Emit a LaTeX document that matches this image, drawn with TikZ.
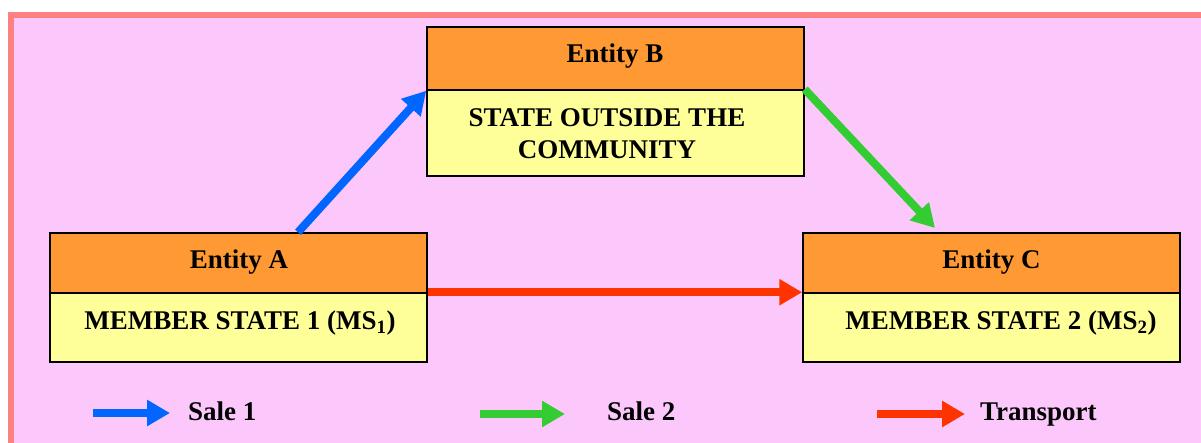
\documentclass[tikz,border=0pt]{standalone}
\usepackage{fontspec}
\setmainfont{Liberation Serif}
\usetikzlibrary{arrows.meta,calc}
\definecolor{bgpink}{RGB}{252,200,252}
\definecolor{framered}{RGB}{255,128,128}
\definecolor{hdrorange}{RGB}{255,153,51}
\definecolor{bodyyellow}{RGB}{255,255,153}
\definecolor{saleblue}{RGB}{0,102,255}
\definecolor{salegreen}{RGB}{51,204,51}
\definecolor{transred}{RGB}{255,51,0}
\begin{document}
\begin{tikzpicture}[x=1pt,y=-1pt,
  hdr/.style={draw=black, line width=1.5pt, fill=hdrorange, minimum width=377pt, inner sep=0pt},
  body/.style={draw=black, line width=1.5pt, fill=bodyyellow, minimum width=377pt, inner sep=0pt},
  lbl/.style={font=\fontsize{27}{32}\selectfont\bfseries, inner sep=0pt},
  arr/.style={line width=8pt, -{Triangle[length=23pt,width=25pt]}}]
\useasboundingbox (0,0) rectangle (1201,443);
\fill[white] (0,0) rectangle (1201,443);
\fill[framered] (8,12) rectangle (1201,443);
\fill[bgpink] (14,18) rectangle (1201,443);
% Entity B
\node[body, minimum height=86pt] (Bb) at (615.5,133) {};
\node[hdr, minimum height=63pt] (Bt) at (615.5,58.5) {};
\node[lbl, anchor=base] (BtT) at (615,63) {Entity B};
\node[lbl, align=center] (BbT) at (607,134) {STATE OUTSIDE THE\\COMMUNITY};
% Entity A
\node[body, minimum height=69pt] (Ab) at (238.5,327.5) {};
\node[hdr, minimum height=60pt] (At) at (238.5,263) {};
\node[lbl, anchor=base] (AtT) at (239,269) {Entity A};
\node[lbl, anchor=base] (AbT) at (240,330) {MEMBER STATE 1 (MS\textsubscript{1})};
% Entity C
\node[body, minimum height=69pt] (Cb) at (991.5,327.5) {};
\node[hdr, minimum height=60pt] (Ct) at (991.5,263) {};
\node[lbl, anchor=base] (CtT) at (991.5,269) {Entity C};
\node[lbl, anchor=base] (CbT) at (1001,330) {MEMBER STATE 2 (MS\textsubscript{2})};
% connectors
\coordinate (s1) at ($(At.north)+(59.5,0)$);
\coordinate (e2) at (935,228);
\draw[arr, saleblue] (s1) -- (Bt.south west);
\draw[arr, salegreen] (Bb.north east) -- (e2);
\draw[arr, transred] (Ab.north east) -- (Cb.north west);
% legend
\coordinate (L1s) at (93,413); \coordinate (L1e) at (170,413);
\coordinate (L2s) at (480,414); \coordinate (L2e) at (565,414);
\coordinate (L3s) at (877,414); \coordinate (L3e) at (965,414);
\draw[arr, saleblue] (L1s) -- (L1e);
\draw[arr, salegreen] (L2s) -- (L2e);
\draw[arr, transred] (L3s) -- (L3e);
\node[lbl, anchor=base west] (T1) at (188,420) {Sale 1};
\node[lbl, anchor=base west] (T2) at (607,420) {Sale 2};
\node[lbl, anchor=base west] (T3) at (980,420) {Transport};
\end{tikzpicture}
\end{document}
